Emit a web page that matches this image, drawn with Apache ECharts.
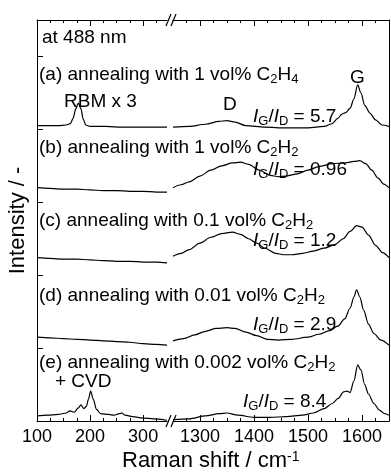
<!DOCTYPE html>
<html>
<head>
<meta charset="utf-8">
<script src="https://cdn.jsdelivr.net/npm/echarts@6/dist/echarts.min.js"></script>
<style>
  html, body { margin: 0; padding: 0; background: #fff; }
  #chart { width: 391px; height: 472px; }
</style>
</head>
<body>
<div id="chart"></div>
<script>
// tick values for the broken x axis
const leftMajor = [100, 200, 300];
const leftMinor = [125, 150, 175, 225, 250, 275, 325];
const rightMajor = [1300, 1400, 1500, 1600];
const rightMinor = [1275, 1325, 1350, 1375, 1425, 1450, 1475, 1525, 1550, 1575, 1625];

// spectra, [Raman shift, offset intensity], low-frequency (RBM) part and D/G part
const aLeft = [[100, 4.05], [120, 4.05], [140, 4.05], [155, 4.06], [163, 4.08], [168, 4.15], [173, 4.28], [178, 4.36], [183, 4.28], [187, 4.14], [192, 4.06], [200, 4.04], [230, 4.04], [260, 4.03], [300, 4.03], [345, 4.03]];
const aRight = [[1250, 4.03], [1280, 4.04], [1310, 4.07], [1335, 4.11], [1350, 4.12], [1365, 4.10], [1385, 4.05], [1420, 4.03], [1460, 4.02], [1500, 4.02], [1530, 4.04], [1545, 4.08], [1555, 4.15], [1563, 4.21], [1570, 4.23], [1578, 4.29], [1585, 4.42], [1592, 4.61], [1598, 4.50], [1605, 4.33], [1615, 4.22], [1625, 4.13], [1637, 4.06], [1650, 4.04]];

const bLeft = [[100, 3.20], [125, 3.19], [150, 3.18], [175, 3.18], [200, 3.17], [225, 3.16], [250, 3.16], [275, 3.15], [300, 3.15], [325, 3.14], [345, 3.14]];
const bRight = [[1250, 3.20], [1265, 3.24], [1280, 3.28], [1300, 3.36], [1320, 3.44], [1340, 3.50], [1360, 3.54], [1375, 3.55], [1390, 3.52], [1410, 3.44], [1430, 3.37], [1445, 3.35], [1460, 3.36], [1480, 3.39], [1500, 3.44], [1520, 3.49], [1545, 3.53], [1570, 3.54], [1585, 3.56], [1596, 3.57], [1607, 3.53], [1618, 3.44], [1630, 3.33], [1640, 3.25], [1650, 3.20]];

const cLeft = [[100, 2.24], [125, 2.23], [150, 2.22], [175, 2.22], [200, 2.21], [225, 2.20], [250, 2.19], [275, 2.19], [300, 2.18], [325, 2.18], [345, 2.17]];
const cRight = [[1250, 2.26], [1265, 2.30], [1280, 2.35], [1300, 2.44], [1320, 2.52], [1340, 2.57], [1360, 2.59], [1375, 2.56], [1390, 2.50], [1405, 2.44], [1420, 2.37], [1440, 2.30], [1455, 2.28], [1470, 2.28], [1490, 2.30], [1510, 2.33], [1530, 2.37], [1550, 2.42], [1565, 2.50], [1578, 2.60], [1590, 2.68], [1600, 2.66], [1612, 2.55], [1625, 2.41], [1638, 2.31], [1650, 2.24]];

const dLeft = [[100, 1.15], [125, 1.14], [150, 1.13], [175, 1.12], [200, 1.11], [225, 1.10], [250, 1.09], [275, 1.08], [300, 1.06], [325, 1.05], [345, 1.04]];
const dRight = [[1250, 1.10], [1270, 1.13], [1290, 1.18], [1310, 1.23], [1330, 1.27], [1350, 1.28], [1365, 1.27], [1385, 1.22], [1405, 1.17], [1425, 1.12], [1445, 1.11], [1470, 1.12], [1500, 1.15], [1520, 1.19], [1540, 1.24], [1555, 1.30], [1568, 1.40], [1578, 1.55], [1585, 1.70], [1590, 1.80], [1596, 1.70], [1603, 1.52], [1612, 1.33], [1622, 1.20], [1635, 1.11], [1650, 1.04]];

const eLeft = [[100, 0.07], [120, 0.08], [140, 0.09], [155, 0.11], [162, 0.14], [170, 0.12], [178, 0.18], [183, 0.22], [188, 0.17], [193, 0.20], [197, 0.30], [201, 0.41], [206, 0.30], [212, 0.16], [220, 0.10], [235, 0.09], [245, 0.08], [255, 0.10], [260, 0.11], [266, 0.08], [280, 0.06], [300, 0.04], [320, 0.03], [345, 0.01]];
const eRight = [[1250, 0.02], [1280, 0.03], [1310, 0.07], [1335, 0.10], [1350, 0.11], [1370, 0.08], [1400, 0.05], [1430, 0.05], [1460, 0.06], [1490, 0.08], [1510, 0.11], [1530, 0.17], [1545, 0.24], [1556, 0.31], [1566, 0.40], [1572, 0.41], [1578, 0.39], [1585, 0.55], [1592, 0.77], [1598, 0.70], [1605, 0.50], [1612, 0.37], [1622, 0.24], [1632, 0.15], [1642, 0.10], [1650, 0.08]];

const sampleLabels = [
  '(a) annealing with 1 vol% C{s|2}H{s|4}',
  '(b) annealing with 1 vol% C{s|2}H{s|2}',
  '(c) annealing with 0.1 vol% C{s|2}H{s|2}',
  '(d) annealing with 0.01 vol% C{s|2}H{s|2}',
  '(e) annealing with 0.002 vol% C{s|2}H{s|2}'
];
const ratios = ['5.7', '0.96', '1.2', '2.9', '8.4'];

const FONT = 'Liberation Sans';
const rich = {
  s: { fontSize: 13, fontFamily: FONT, verticalAlign: 'bottom', lineHeight: 13, padding: [10, 0, 0, 0] },
  i: { fontSize: 19, fontFamily: FONT, fontStyle: 'italic' },
  sup: { fontSize: 14, fontFamily: FONT, verticalAlign: 'top', lineHeight: 14, padding: [0, 0, 11, 0] }
};

function xAxisPair(grid, min, max, major, minor, pos, labels) {
  const base = {
    type: 'value', gridIndex: grid, position: pos, min: min, max: max,
    splitLine: { show: false }
  };
  return [
    Object.assign({}, base, {
      axisLine: { show: true, onZero: false, lineStyle: { color: '#000', width: 1 } },
      axisTick: { show: true, inside: true, length: 6, customValues: major, lineStyle: { color: '#000' } },
      axisLabel: labels
        ? { show: true, customValues: major, color: '#000', fontSize: 18, fontFamily: FONT, margin: 7,
            formatter: v => String(v) }
        : { show: false }
    }),
    Object.assign({}, base, {
      axisLine: { show: false },
      axisTick: { show: true, inside: true, length: 3, customValues: minor, lineStyle: { color: '#000' } },
      axisLabel: { show: false }
    })
  ];
}

function text(x, y, str, size) {
  return {
    type: 'text', x: x, y: y, z: 10,
    style: {
      text: str, fill: '#000', fontSize: size || 19, fontFamily: FONT,
      verticalAlign: 'middle', lineHeight: 21, rich: rich
    }
  };
}

function slash(x, y) {
  return {
    type: 'line', z: 10,
    shape: { x1: x, y1: y + 6, x2: x + 5, y2: y - 6 },
    style: { stroke: '#000', lineWidth: 1.2 }
  };
}

function spectrum(data, xi, yi) {
  return {
    type: 'line', data: data, xAxisIndex: xi, yAxisIndex: yi,
    showSymbol: false, smooth: 0.3, smoothMonotone: 'x',
    lineStyle: { color: '#000', width: 1.2 }, silent: true
  };
}

const ratioY = [117, 170, 241, 325, 402];
const ratioX = [253, 253, 253, 253, 243];
const labelY = [75, 148, 221, 296, 363];

const graphic = [
  text(42, 38, 'at 488 nm'),
  text(64, 102, 'RBM x 3'),
  text(223, 105, 'D'),
  text(350, 78, 'G'),
  text(55, 382, '+ CVD'),
  text(122, 461, 'Raman shift / cm{sup|-1}', 22),
  slash(166, 20), slash(171, 20),
  slash(166, 421), slash(171, 421)
];
sampleLabels.forEach(function (s, k) {
  graphic.push(text(39, labelY[k], s));
  graphic.push(text(ratioX[k], ratioY[k], '{i|I}{s|G}/{i|I}{s|D} = ' + ratios[k]));
});

const option = {
  animation: false,
  backgroundColor: '#fff',
  grid: [
    { left: 37, top: 20, width: 130, height: 401 },
    { left: 173, top: 20, width: 216, height: 401 }
  ],
  xAxis: [].concat(
    xAxisPair(0, 100, 345, leftMajor, leftMinor, 'bottom', true),
    xAxisPair(0, 100, 345, leftMajor, leftMinor, 'top', false),
    xAxisPair(1, 1250, 1650, rightMajor, rightMinor, 'bottom', true),
    xAxisPair(1, 1250, 1650, rightMajor, rightMinor, 'top', false)
  ),
  yAxis: [
    {
      type: 'value', gridIndex: 0, min: 0, max: 5.5, interval: 1,
      name: 'Intensity / -', nameLocation: 'middle', nameGap: 8,
      nameTextStyle: { color: '#000', fontSize: 22, fontFamily: FONT },
      axisLine: { show: true, lineStyle: { color: '#000', width: 1 } },
      axisTick: { show: true, inside: true, length: 6, lineStyle: { color: '#000' } },
      axisLabel: { show: false },
      splitLine: { show: false }
    },
    {
      type: 'value', gridIndex: 1, position: 'right', min: 0, max: 5.5,
      axisLine: { show: true, lineStyle: { color: '#000', width: 1 } },
      axisTick: { show: false },
      axisLabel: { show: false },
      splitLine: { show: false }
    }
  ],
  series: [
    spectrum(aLeft, 0, 0), spectrum(aRight, 4, 1),
    spectrum(bLeft, 0, 0), spectrum(bRight, 4, 1),
    spectrum(cLeft, 0, 0), spectrum(cRight, 4, 1),
    spectrum(dLeft, 0, 0), spectrum(dRight, 4, 1),
    spectrum(eLeft, 0, 0), spectrum(eRight, 4, 1)
  ],
  graphic: graphic
};

const chart = echarts.init(document.getElementById('chart'));
chart.setOption(option);
window.addEventListener('resize', () => {
  chart.resize();
});
</script>
</body>
</html>
